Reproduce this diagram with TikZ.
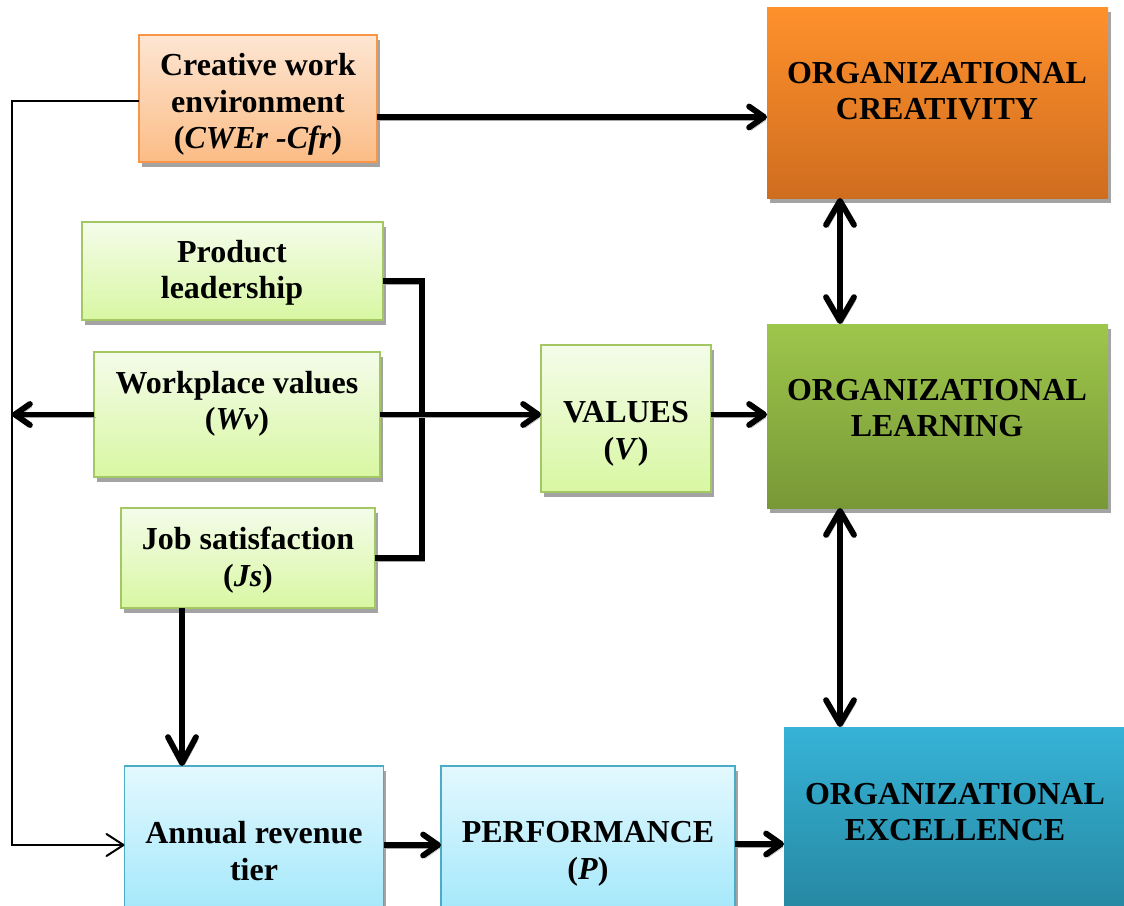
\documentclass[tikz,border=0pt]{standalone}
\usepackage{fontspec}
\setmainfont{Liberation Serif}
\usetikzlibrary{arrows.meta,shadows}

% fills and borders
\definecolor{peachTop}{HTML}{FDE6D3}
\definecolor{peachBot}{HTML}{FBBC86}
\definecolor{peachLine}{HTML}{F79646}
\definecolor{orangeTop}{HTML}{FF912C}
\definecolor{orangeBot}{HTML}{CF6D1F}
\definecolor{limeTop}{HTML}{F4FCEA}
\definecolor{limeBot}{HTML}{D8F7A2}
\definecolor{limeLine}{HTML}{A3C763}
\definecolor{oliveTop}{HTML}{9EC64B}
\definecolor{oliveBot}{HTML}{789837}
\definecolor{skyTop}{HTML}{E3F8FE}
\definecolor{skyBot}{HTML}{A4E8FB}
\definecolor{skyLine}{HTML}{4BACC6}
\definecolor{tealTop}{HTML}{36B3D7}
\definecolor{tealBot}{HTML}{2687A1}

\begin{document}
\begin{tikzpicture}[x=1pt,y=-1pt,
  every node/.style={inner sep=0pt, outer sep=0pt},
  boxshadow/.style={drop shadow={shadow xshift=2.5pt, shadow yshift=-4.5pt, fill=black!45, opacity=.8}},
  small/.style={rectangle, boxshadow, line width=1.3pt},
  big/.style={rectangle, boxshadow, draw=none},
  peach/.style={small, draw=peachLine, top color=peachTop, bottom color=peachBot},
  lime/.style={small, draw=limeLine, top color=limeTop, bottom color=limeBot},
  sky/.style={small, draw=skyLine, top color=skyTop, bottom color=skyBot},
  orangebox/.style={big, top color=orangeTop, bottom color=orangeBot},
  olivebox/.style={big, top color=oliveTop, bottom color=oliveBot},
  tealbox/.style={big, top color=tealTop, bottom color=tealBot},
  label/.style={align=center, font=\fontsize{32}{36.5}\selectfont\bfseries},
  arrowshade/.style={preaction={draw=black!35, transform canvas={shift={(2pt,-3pt)}}}},
  heavy/.style={line width=5.8pt, arrowshade},
  onearrow/.style={heavy, -{Straight Barb[length=15pt,width=21pt,round]}},
  bigarrow/.style={heavy, -{Straight Barb[length=26pt,width=28pt,round]}},
  twoway/.style={heavy, {Straight Barb[length=24pt,width=28pt,round]}-{Straight Barb[length=24pt,width=28pt,round]}},
  feedback/.style={line width=1.4pt, -{Straight Barb[length=17pt,width=22pt,line width=2pt,round]}},
]
\useasboundingbox (0,0) rectangle (1124,905);

% boxes
\node[peach, minimum width=238pt, minimum height=127pt] (cwe) at (258,98.5) {};
\node[orangebox, minimum width=341pt, minimum height=191pt] (oc) at (937.5,102.5) {};
\node[lime, minimum width=301pt, minimum height=98pt] (pl) at (232.5,271) {};
\node[lime, minimum width=286pt, minimum height=125pt] (wv) at (237,414.5) {};
\node[lime, minimum width=254pt, minimum height=100pt] (js) at (248,558) {};
\node[lime, minimum width=170pt, minimum height=147pt] (val) at (626,418.5) {};
\node[olivebox, minimum width=341pt, minimum height=184pt] (ol) at (937.5,416) {};
\node[sky, minimum width=259pt, minimum height=146pt] (art) at (254,839) {};
\node[sky, minimum width=294pt, minimum height=146pt] (perf) at (588,839) {};
\node[tealbox, minimum width=342pt, minimum height=185pt] (oe) at (955,819.5) {};

% texts
\node[label] (cwe-t) at (258,104.5) {Creative work\\environment\\(\textit{CWEr -Cfr})};
\node[label] (oc-t) at (937,91) {ORGANIZATIONAL\\CREATIVITY};
\node[label] (pl-t) at (232,273) {Product\\leadership};
\node[label] (wv-t) at (237,404) {Workplace values\\(\textit{Wv})};
\node[label] (js-t) at (248,560) {Job satisfaction\\(\textit{Js})};
\node[label] (val-t) at (626,434) {VALUES\\(\textit{V})};
\node[label] (ol-t) at (937,408) {ORGANIZATIONAL\\LEARNING};
\node[label] (art-t) at (254,851) {Annual revenue\\tier};
\node[label] (perf-t) at (588,854) {PERFORMANCE\\(\textit{P})};
\node[label] (oe-t) at (955,812) {ORGANIZATIONAL\\EXCELLENCE};

% helper points
\coordinate (lx) at (12,0);
\coordinate (bus) at (422,400);
\coordinate (art-in) at ([yshift=-6pt]art.west);

% feedback line from the work environment to the revenue tier
\draw[feedback] ([yshift=-2.5pt]cwe.west) -| (lx |- art-in) -- (art-in);

% connectors
\draw[onearrow] ([yshift=-18.5pt]cwe.east) coordinate (c1) -- (c1 -| oc.west);
\draw[heavy, line join=miter] ([yshift=-10pt]pl.east) -| (bus) |- (js.east);
\draw[onearrow] (wv.west) -- (lx |- wv.west);
\draw[onearrow] (wv.east) -- (wv.east -| val.west);
\draw[onearrow] (val.east |- wv.east) -- (ol.west |- wv.east);
\draw[bigarrow] ([xshift=-66pt]js.south) coordinate (j1) -- (j1 |- art.north);
\draw[twoway] ([xshift=-97.5pt]oc.south) coordinate (d1) -- (d1 |- ol.north);
\draw[twoway] ([xshift=-97.5pt]ol.south) coordinate (d2) -- (d2 |- oe.north);
\draw[onearrow] ([yshift=-6pt]art.east) coordinate (a1) -- (a1 -| perf.west);
\draw[onearrow] ([yshift=-5pt]perf.east) coordinate (p1) -- (p1 -| oe.west);
\end{tikzpicture}
\end{document}
